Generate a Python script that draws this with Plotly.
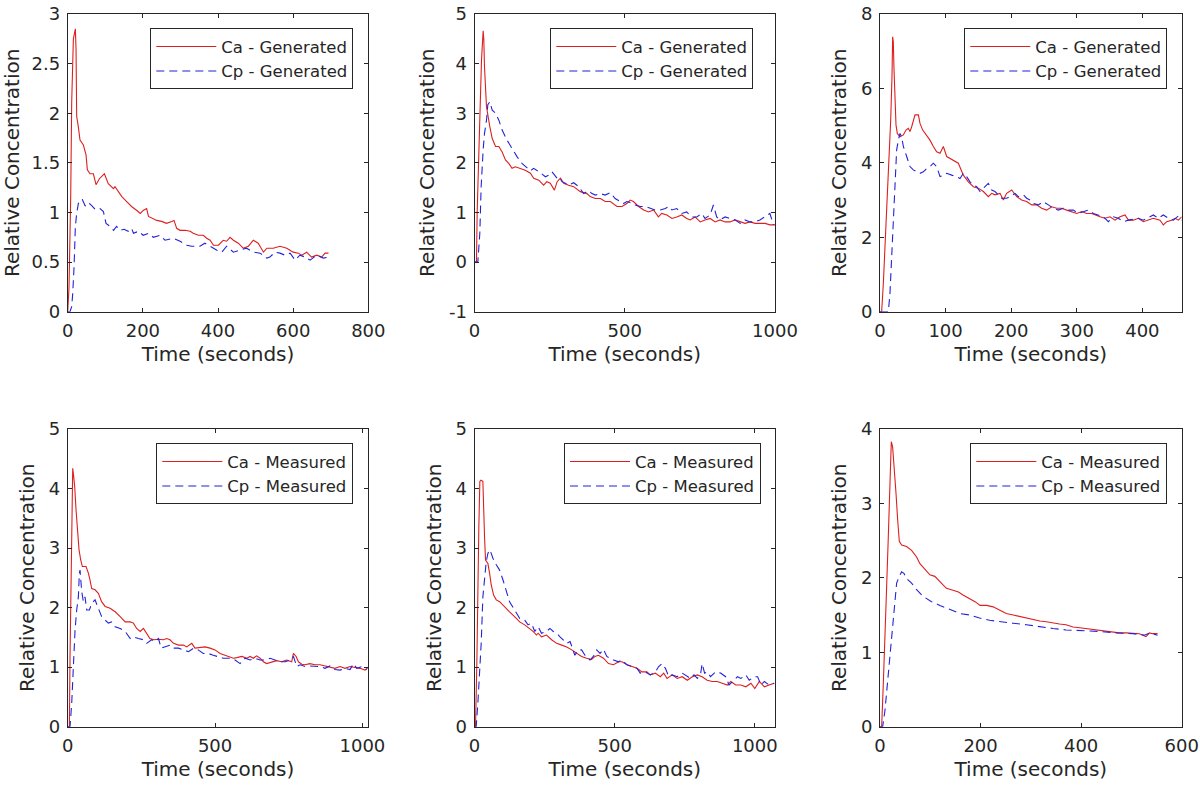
import plotly.graph_objects as go

# ---------------- data (time in seconds, relative concentration) ----------------
p1_ca = [(0,0),(3.5,0.25),(8,1.16),(10.6,2.10),(15.1,2.75),(20.4,2.85),(22.2,2.64),(23.9,1.97),(28.4,1.86),(32.8,1.73),
         (41.7,1.68),(48.8,1.58),(52.3,1.43),(59.4,1.39),(68.3,1.39),(75.4,1.28),(84.3,1.34),(97.6,1.39),(108,1.29),(122,1.24),
         (126,1.26),(135,1.21),(144,1.16),(157,1.11),(170,1.06),(184,1.02),(193,0.99),(201,1.02),(210,1.04),(215,0.96),
         (224,0.94),(237,0.92),(250,0.91),(263,0.89),(277,0.91),(283,0.92),(290,0.84),(299,0.82),(312,0.82),(326,0.81),
         (334,0.79),(348,0.77),(361,0.77),(370,0.74),(379,0.72),(388,0.67),(401,0.67),(414,0.72),(423,0.71),(432,0.75),
         (441,0.72),(454,0.69),(467,0.64),(481,0.66),(494,0.72),(507,0.69),(521,0.60),(530,0.64),(547,0.64),(565,0.66),
         (583,0.64),(600,0.60),(614,0.59),(623,0.57),(636,0.60),(649,0.55),(663,0.57),(676,0.55),(685,0.59),(694,0.59)]
p1_cp = [(0,0),(6,0),(10.6,0.05),(13.3,0.18),(16.9,0.45),(20.4,0.86),(23.9,0.99),(28.4,1.09),(33.7,1.13),(39,1.13),
         (46,1.07),(52,1.06),(58,1.09),(64,1.07),(73,1.03),(86,1.04),(95,1.01),(102,0.89),(113,0.86),(122,0.82),
         (130,0.86),(139,0.82),(150,0.83),(161,0.81),(170,0.84),(175,0.79),(188,0.81),(201,0.77),(215,0.79),(228,0.75),
         (246,0.77),(259,0.72),(281,0.74),(299,0.71),(317,0.67),(330,0.66),(352,0.66),(365,0.69),(379,0.66),(397,0.62),
         (410,0.60),(423,0.66),(441,0.60),(459,0.62),(476,0.64),(494,0.60),(512,0.59),(530,0.54),(538,0.55),(552,0.60),
         (565,0.59),(578,0.57),(592,0.59),(605,0.52),(618,0.57),(632,0.55),(645,0.52),(663,0.57),(680,0.54),(694,0.55)]

p2_ca = [(0,0),(6.6,0),(8.9,1.01),(14.4,2.39),(19.9,3.60),(23.3,4.07),(28.8,4.66),(31,4.48),(33.2,3.94),(39.9,3.13),
         (51,2.73),(59,2.49),(70,2.33),(81,2.33),(92,2.22),(103,2.06),(114,1.99),(125,1.89),(136,1.92),(153,1.89),
         (169,1.85),(186,1.79),(197,1.69),(214,1.65),(230,1.55),(241,1.62),(252,1.59),(266,1.45),(275,1.62),(286,1.69),
         (297,1.59),(313,1.55),(330,1.52),(352,1.42),(374,1.38),(385,1.32),(402,1.28),(419,1.28),(435,1.22),(452,1.22),
         (474,1.12),(491,1.12),(507,1.18),(518,1.25),(529,1.22),(546,1.12),(563,1.05),(579,1.01),(596,1.05),(612,0.91),
         (623,0.98),(640,0.95),(657,0.88),(673,0.91),(690,0.95),(706,0.88),(718,0.85),(734,0.91),(751,0.81),(767,0.85),
         (784,0.88),(801,0.81),(817,0.85),(834,0.81),(850,0.81),(867,0.85),(884,0.81),(900,0.78),(917,0.81),(934,0.78),
         (950,0.78),(967,0.78),(983,0.75),(1000,0.75)]
p2_cp = [(0,0),(11,0),(17.7,0.58),(22.1,1.52),(28.8,2.26),(33.2,2.59),(39.9,2.86),(44.3,3.17),(51,3.23),(59,3.06),
         (70,3.00),(81,2.86),(92,2.66),(108,2.46),(125,2.29),(142,2.12),(158,1.99),(175,1.89),(186,1.84),(197,1.89),
         (208,1.85),(219,1.80),(236,1.72),(247,1.75),(258,1.82),(266,1.75),(275,1.69),(283,1.71),(291,1.62),(302,1.59),
         (313,1.55),(330,1.60),(347,1.52),(363,1.38),(380,1.44),(391,1.38),(402,1.35),(419,1.38),(435,1.35),(452,1.40),
         (468,1.28),(485,1.22),(496,1.18),(507,1.22),(518,1.20),(535,1.15),(551,1.12),(568,1.12),(585,1.08),(601,1.05),
         (618,1.05),(635,1.08),(646,1.12),(657,1.05),(673,1.08),(690,0.98),(706,1.01),(723,0.91),(740,0.91),(756,0.98),
         (767,0.88),(784,0.95),(795,1.15),(806,0.91),(817,0.85),(834,0.91),(850,0.88),(867,0.85),(884,0.78),(900,0.85),
         (917,0.81),(934,0.81),(950,0.85),(967,0.91),(983,0.98),(995,0.75)]

p3_ca = [(0,0),(2.5,0),(5.1,0.76),(7.6,1.75),(11.2,3.00),(14.2,4.08),(16.3,5.15),(18.3,6.32),(19.3,7.39),(20.3,7.26),
         (21.3,6.54),(22.9,5.78),(24.4,5.02),(26.4,4.79),(30.5,4.70),(35.6,4.75),(39.6,4.88),(43.2,4.93),(45.7,4.84),(48.3,4.97),
         (50.8,5.15),(53.4,5.29),(58.5,5.29),(61,5.06),(65.1,4.88),(70.1,4.75),(76.2,4.61),(81.3,4.44),(86.4,4.30),(91.5,4.26),
         (96.6,4.44),(101.7,4.17),(106.7,4.12),(111.8,4.08),(119.4,3.99),(127.1,3.67),(134.7,3.49),(142.3,3.36),(149.9,3.32),(157.6,3.23),
         (165.2,3.09),(170.3,3.18),(175.3,3.14),(183,3.18),(188.1,3.00),(193.1,3.18),(200.8,3.27),(208.4,3.09),(216,3.00),(223.6,2.96),
         (231.3,2.87),(238.9,2.87),(246.5,2.78),(254.1,2.73),(261.8,2.82),(269.4,2.78),(277,2.78),(284.6,2.73),(292.3,2.69),(299.9,2.64),
         (307.5,2.69),(315.1,2.64),(322.7,2.64),(327.8,2.60),(335.5,2.55),(343.1,2.51),(350.7,2.55),(358.3,2.46),(366,2.55),(373.6,2.60),
         (378.7,2.46),(386.3,2.46),(393.9,2.51),(401.5,2.42),(409.1,2.46),(416.8,2.51),(426.9,2.46),(432,2.33),(437.1,2.42),(444.7,2.46),
         (449.8,2.51),(454.9,2.46),(460,2.55)]
p3_cp = [(0,0),(12.7,0),(15.2,0.49),(17.8,1.39),(20.3,2.55),(22.9,3.27),(25.4,4.35),(28,4.61),(30.5,4.79),(33,4.70),
         (35.6,4.44),(40.7,4.17),(45.7,3.90),(50.8,3.81),(55.9,3.76),(61,3.72),(66.1,3.76),(71.2,3.85),(76.2,3.90),(81.3,3.99),
         (86.4,3.90),(91.5,3.63),(96.6,3.67),(101.7,3.72),(109.3,3.67),(116.9,3.63),(122,3.58),(127.1,3.72),(132.1,3.63),(137.2,3.49),
         (142.3,3.40),(147.4,3.36),(152.5,3.23),(160.1,3.36),(165.2,3.45),(170.3,3.27),(175.3,3.23),(180.4,3.14),(185.5,3.05),(193.1,3.05),
         (198.2,3.09),(205.8,3.18),(210.9,3.09),(218.6,3.14),(223.6,3.05),(228.7,3.00),(233.8,2.91),(241.4,2.87),(249,2.96),(256.7,2.87),
         (264.3,2.78),(271.9,2.73),(279.5,2.78),(287.2,2.73),(294.8,2.73),(302.4,2.64),(310,2.69),(317.7,2.73),(325.3,2.64),(332.9,2.60),
         (340.5,2.55),(348.2,2.42),(355.8,2.55),(363.4,2.51),(371,2.42),(378.7,2.46),(386.3,2.48),(393.9,2.51),(401.5,2.46),(409.1,2.54),
         (416.8,2.60),(424.4,2.51),(432,2.60),(439.6,2.51),(447.3,2.46),(454.9,2.57),(460,2.46)]

p4_ca = [(0,0),(5.7,0),(7.9,1.18),(11.3,2.52),(14.7,3.64),(17,4.34),(20.4,4.20),(23.8,4.03),(28.3,3.64),(32.8,3.30),
         (38.5,2.97),(44.1,2.80),(49.8,2.69),(62.2,2.69),(70.1,2.58),(75.8,2.46),(81.4,2.32),(92.8,2.30),(104,2.24),(115,2.10),
         (127,2.02),(144,1.99),(161,1.93),(178,1.85),(195,1.76),(212,1.76),(223,1.74),(234,1.65),(246,1.60),(257,1.65),
         (268,1.57),(279,1.48),(293,1.46),(308,1.47),(325,1.46),(336,1.48),(347,1.46),(359,1.40),(376,1.37),(393,1.37),
         (404,1.34),(415,1.37),(421,1.40),(432,1.32),(449,1.33),(466,1.34),(483,1.32),(500,1.29),(517,1.23),(534,1.20),
         (551,1.18),(562,1.15),(574,1.16),(591,1.18),(608,1.15),(619,1.18),(630,1.15),(641,1.19),(653,1.15),(664,1.09),
         (675,1.06),(692,1.09),(709,1.11),(726,1.09),(743,1.12),(760,1.09),(766,1.23),(775,1.18),(783,1.09),(794,1.05),
         (805,1.04),(822,1.06),(839,1.04),(856,1.04),(873,1.02),(890,1.01),(907,0.98),(924,1.01),(941,0.98),(958,1.01),
         (975,1.00),(992,0.98),(1009,0.95),(1020,1.00)]
p4_cp = [(0,0),(7.9,0),(13.6,0.39),(19.2,1.12),(24.9,1.62),(30.5,1.96),(36.2,2.18),(39.6,2.58),(41.9,2.63),(47.5,2.27),
         (53.2,2.10),(58.8,2.18),(64.5,1.96),(73.5,1.96),(81.4,2.07),(92.8,2.13),(104,1.99),(115,1.85),(127,1.79),(138,1.74),
         (149,1.76),(161,1.68),(178,1.65),(195,1.60),(212,1.48),(223,1.51),(240,1.48),(257,1.46),(268,1.40),(285,1.46),
         (296,1.43),(308,1.48),(317,1.32),(330,1.34),(347,1.37),(359,1.32),(376,1.32),(393,1.29),(410,1.26),(427,1.32),
         (443,1.29),(460,1.23),(477,1.23),(494,1.20),(511,1.18),(528,1.15),(551,1.15),(568,1.12),(585,1.06),(602,1.15),
         (619,1.12),(636,1.15),(653,1.12),(670,1.12),(687,1.15),(704,1.12),(721,1.09),(738,1.09),(755,1.12),(766,1.18),
         (777,1.01),(789,1.04),(805,1.01),(822,1.02),(839,1.01),(856,1.01),(873,0.98),(890,1.02),(907,0.96),(924,0.95),
         (941,0.98),(958,0.96),(970,1.06),(981,0.98),(998,1.01),(1015,0.96)]

p5_ca = [(0,0),(3.6,0),(8.4,1.06),(11.9,2.41),(15.5,3.36),(19.1,4.12),(22.7,4.14),(29.9,4.12),(32.3,3.64),(35.8,3.19),
         (39.4,2.80),(44.2,2.77),(47.8,2.74),(53.8,2.58),(59.7,2.38),(68.1,2.21),(77.7,2.13),(89.6,2.10),(108,2.02),(125,1.93),
         (143,1.85),(161,1.76),(179,1.71),(197,1.65),(209,1.60),(221,1.54),(227,1.57),(239,1.51),(257,1.54),(275,1.46),
         (293,1.40),(311,1.37),(329,1.34),(347,1.29),(364,1.23),(382,1.18),(400,1.15),(418,1.13),(430,1.18),(442,1.20),
         (460,1.15),(478,1.06),(496,1.04),(514,1.09),(526,1.09),(544,1.04),(562,1.01),(580,0.98),(597,0.92),(615,0.92),
         (627,0.87),(645,0.90),(663,0.84),(675,0.90),(687,0.81),(705,0.87),(723,0.81),(741,0.84),(759,0.78),(777,0.84),
         (795,0.87),(812,0.84),(830,0.78),(848,0.76),(866,0.76),(884,0.73),(902,0.70),(914,0.76),(932,0.70),(950,0.70),
         (968,0.67),(986,0.73),(1000,0.64),(1016,0.76),(1034,0.67),(1051,0.70),(1069,0.73)]
p5_cp = [(0,0),(6,0),(11.9,0.39),(17.9,0.84),(23.9,1.40),(29.9,2.18),(35.8,2.52),(41.8,2.77),(47.8,2.91),(53.8,2.97),
         (59.7,2.91),(65.7,2.83),(77.7,2.72),(89.6,2.63),(102,2.46),(114,2.27),(125,2.10),(143,1.96),(161,1.82),(179,1.79),
         (191,1.71),(203,1.74),(215,1.60),(227,1.68),(239,1.57),(257,1.60),(269,1.65),(281,1.60),(293,1.57),(305,1.51),
         (317,1.46),(329,1.40),(341,1.43),(358,1.20),(370,1.29),(382,1.29),(394,1.20),(412,1.12),(424,1.18),(436,1.29),
         (448,1.23),(460,1.30),(472,1.18),(484,1.15),(496,1.12),(514,1.09),(526,1.12),(544,1.04),(562,1.01),(580,0.98),
         (591,0.90),(609,0.92),(627,0.87),(645,0.92),(657,1.01),(669,1.06),(681,0.98),(693,0.84),(705,0.87),(723,0.84),
         (741,0.90),(759,0.84),(771,0.81),(783,0.87),(795,0.81),(807,0.90),(812,1.06),(821,0.90),(830,0.92),(842,0.84),
         (860,0.92),(878,0.90),(896,0.84),(908,0.70),(920,0.76),(938,0.84),(950,0.81),(968,0.87),(980,0.78),(998,0.84),
         (1010,0.84),(1022,0.70),(1034,0.76),(1051,0.70),(1069,0.73)]

p6_ca = [(0,0),(3.3,0),(6.6,0.58),(9.9,1.12),(13.2,1.88),(16.5,2.55),(19.8,3.45),(22.5,3.83),(25.1,3.76),(28.4,3.49),
         (31.8,3.14),(35.1,2.78),(38.4,2.49),(43,2.44),(52.9,2.42),(62.8,2.37),(72.8,2.28),(79.4,2.19),(89.3,2.11),(99.2,2.04),
         (109,2.02),(116,1.97),(122,1.93),(132,1.86),(142,1.84),(156,1.81),(165,1.77),(179,1.72),(189,1.68),(199,1.63),
         (212,1.63),(225,1.61),(238,1.57),(251,1.52),(265,1.50),(278,1.48),(291,1.46),(304,1.44),(318,1.42),(331,1.41),
         (344,1.39),(357,1.38),(370,1.37),(384,1.34),(397,1.33),(410,1.32),(423,1.31),(437,1.30),(450,1.29),(463,1.28),
         (476,1.26),(490,1.26),(503,1.25),(516,1.25),(523,1.23),(529,1.21),(536,1.26),(542,1.25),(552,1.25)]
p6_cp = [(0,0),(5.3,0),(9.9,0.22),(14.6,0.58),(19.8,0.90),(25.1,1.34),(28.4,1.61),(33.1,1.93),(38.4,2.02),(43,2.08),
         (47.6,2.06),(52.9,1.99),(62.8,1.93),(72.8,1.84),(86,1.75),(102.5,1.68),(119,1.63),(139,1.57),(159,1.52),(179,1.50),
         (198,1.46),(218,1.43),(238,1.41),(265,1.39),(291,1.37),(318,1.34),(344,1.32),(370,1.30),(404,1.29),(437,1.28),
         (470,1.26),(503,1.25),(526,1.23),(536,1.26),(552,1.23)]

# axis tick values per panel
x_ticks = [[0, 200, 400, 600, 800], [0, 500, 1000], [0, 100, 200, 300, 400],
           [0, 500, 1000], [0, 500, 1000], [0, 200, 400, 600]]
x_ranges = [[0, 800], [0, 1000], [0, 460], [0, 1020], [0, 1072], [0, 600]]
y_ticks = [[0, 0.5, 1, 1.5, 2, 2.5, 3], [-1, 0, 1, 2, 3, 4, 5], [0, 2, 4, 6, 8],
           [0, 1, 2, 3, 4, 5], [0, 1, 2, 3, 4, 5], [0, 1, 2, 3, 4]]
y_tick_text = [["0", "0.5", "1", "1.5", "2", "2.5", "3"], ["-1", "0", "1", "2", "3", "4", "5"],
               ["0", "2", "4", "6", "8"], ["0", "1", "2", "3", "4", "5"], ["0", "1", "2", "3", "4", "5"],
               ["0", "1", "2", "3", "4"]]
legend_names = [["Ca - Generated", "Cp - Generated"]] * 3 + [["Ca - Measured", "Cp - Measured"]] * 3
curves = [(p1_ca, p1_cp), (p2_ca, p2_cp), (p3_ca, p3_cp), (p4_ca, p4_cp), (p5_ca, p5_cp), (p6_ca, p6_cp)]

# ---------------- layout constants ----------------
W, H = 1200, 785
FONT = "DejaVu Sans"
AX = "#262626"
RED = "#dd1f1f"
BLUE = "#2323d9"
col_px = [(67.7, 368.3), (474.5, 775.0), (880.0, 1181.7)]
row_px = [(14.0, 311.7), (429.0, 726.7)]
legend_px = [(353.3, 28.3), (753.3, 28.3), (1167.3, 28.3),
             (353.3, 443.3), (761.0, 443.3), (1167.3, 443.3)]

fig = go.Figure()
layout = dict(template="none", width=W, height=H, margin=dict(l=0, r=0, t=0, b=0, autoexpand=False),
              paper_bgcolor="white", plot_bgcolor="white",
              font=dict(family=FONT, color=AX, size=16), showlegend=True)

for i in range(6):
    r, c = divmod(i, 3)
    n = i + 1
    xa = "xaxis" if n == 1 else f"xaxis{n}"
    ya = "yaxis" if n == 1 else f"yaxis{n}"
    xr = "x" if n == 1 else f"x{n}"
    yr = "y" if n == 1 else f"y{n}"
    lg = "legend" if n == 1 else f"legend{n}"
    ca, cp = curves[i]
    fig.add_trace(go.Scatter(x=[p[0] for p in ca], y=[p[1] for p in ca], mode="lines",
                             name=legend_names[i][0], xaxis=xr, yaxis=yr, legend=lg,
                             line=dict(color=RED, width=1.1)))
    fig.add_trace(go.Scatter(x=[p[0] for p in cp], y=[p[1] for p in cp], mode="lines",
                             name=legend_names[i][1], xaxis=xr, yaxis=yr, legend=lg,
                             line=dict(color=BLUE, width=1.1, dash="8px,5px")))
    x0, x1 = col_px[c]
    y0, y1 = row_px[r]
    common = dict(showline=True, linecolor=AX, linewidth=1, mirror="ticks", ticks="inside",
                  ticklen=4, tickcolor=AX, tickwidth=1, showgrid=False, zeroline=False,
                  automargin=False, tickfont=dict(family=FONT, size=18, color=AX))
    layout[xa] = dict(common, domain=[x0 / W, x1 / W], anchor=yr, range=x_ranges[i],
                      tickvals=x_ticks[i], ticklabelstandoff=3,
                      title=dict(text="Time (seconds)", font=dict(family=FONT, size=20, color=AX), standoff=6))
    layout[ya] = dict(common, domain=[1 - y1 / H, 1 - y0 / H], anchor=xr,
                      range=[y_ticks[i][0], y_ticks[i][-1]], tickvals=y_ticks[i], ticktext=y_tick_text[i],
                      ticklabelstandoff=3,
                      title=dict(text="Relative Concentration", font=dict(family=FONT, size=20, color=AX), standoff=8))
    lx, ly = legend_px[i]
    layout[lg] = dict(x=lx / W, y=1 - ly / H, xanchor="right", yanchor="top", xref="paper", yref="paper",
                      bgcolor="white", bordercolor=AX, borderwidth=1, itemwidth=60,
                      font=dict(family=FONT, size=16.5, color=AX), tracegroupgap=0,
                      itemclick=False, itemdoubleclick=False)

fig.update_layout(**layout)
fig.write_html("out.html", config={"displayModeBar": False},
               post_script="document.body.style.margin='0';document.body.style.padding='0';"
                           "document.body.style.overflow='hidden';")
